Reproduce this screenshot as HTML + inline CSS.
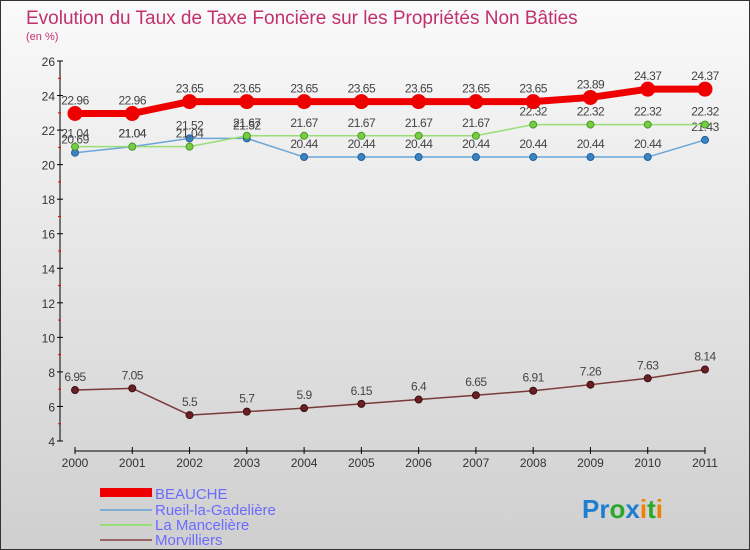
<!DOCTYPE html>
<html><head><meta charset="utf-8"><style>
body{margin:0;width:750px;height:550px;overflow:hidden;font-family:"Liberation Sans",sans-serif}
svg{display:block}
</style></head><body>
<svg id="c" width="750" height="550" xmlns="http://www.w3.org/2000/svg">
<defs><linearGradient id="bg" x1="0" y1="0" x2="0" y2="1"><stop offset="0" stop-color="#fafafa"/><stop offset="1" stop-color="#cfcfcf"/></linearGradient></defs>
<rect x="0.5" y="0.5" width="749" height="549" fill="url(#bg)" stroke="#333"/>
<text x="26" y="24" font-size="19" fill="#c2306d">Evolution du Taux de Taxe Foncière sur les Propriétés Non Bâties</text>
<text x="26" y="40" font-size="11" fill="#c2306d">(en %)</text>
<g id="axes"></g><g id="series"></g>
<g>
<rect x="100" y="488" width="52" height="9" fill="#e00"/>
<text x="155" y="499" font-size="15" fill="#6b6bff">BEAUCHE</text>
<line x1="100" y1="510" x2="152" y2="510" stroke="#7aaed6" stroke-width="2"/>
<text x="155" y="515" font-size="15" fill="#6b6bff">Rueil-la-Gadelière</text>
<line x1="100" y1="525" x2="152" y2="525" stroke="#99dd77" stroke-width="2"/>
<text x="155" y="530" font-size="15" fill="#6b6bff">La Mancelière</text>
<line x1="100" y1="540" x2="152" y2="540" stroke="#996666" stroke-width="2"/>
<text x="155" y="545" font-size="15" fill="#6b6bff">Morvilliers</text>
</g>
<text x="582" y="518" font-size="26" font-weight="bold"><tspan fill="#1e7fd0">Pr</tspan><tspan fill="#2aa82a">o</tspan><tspan fill="#1e7fd0">x</tspan><tspan fill="#f08000">i</tspan><tspan fill="#2aa82a">t</tspan><tspan fill="#f08000">i</tspan></text>
</svg>
<script>
const years=["2000","2001","2002","2003","2004","2005","2006","2007","2008","2009","2010","2011"];
const yTicks=[4,6,8,10,12,14,16,18,20,22,24,26];
const beauche=[22.96,22.96,23.65,23.65,23.65,23.65,23.65,23.65,23.65,23.89,24.37,24.37];
const rueil=[20.69,21.04,21.52,21.52,20.44,20.44,20.44,20.44,20.44,20.44,20.44,21.43];
const manceliere=[21.04,21.04,21.04,21.67,21.67,21.67,21.67,21.67,22.32,22.32,22.32,22.32];
const morvilliers=[6.95,7.05,5.5,5.7,5.9,6.15,6.4,6.65,6.91,7.26,7.63,8.14];
const NS="http://www.w3.org/2000/svg";
const xs=i=>75+i*(630/(years.length-1));
const ys=v=>441-(v-4)*(380/22);
function mk(tag,at,parent){const e=document.createElementNS(NS,tag);for(const k in at)e.setAttribute(k,at[k]);parent.appendChild(e);return e;}
const ax=document.getElementById('axes');
let l=mk('line',{x1:60,y1:61,x2:60,y2:441,stroke:'#000'},ax);


l=mk('line',{x1:75,y1:451,x2:705,y2:451,stroke:'#000'},ax);


yTicks.forEach((t,i)=>{
  const y=ys(t);
  mk('line',{x1:57,y1:y,x2:63,y2:y,stroke:'#000'},ax);
  if(i<yTicks.length-1) mk('line',{x1:58,y1:y-17.27,x2:61,y2:y-17.27,stroke:'#e00'},ax);
  const tx=mk('text',{x:55,y:y+5,'font-size':12,fill:'#333','text-anchor':'end'},ax);
  tx.textContent=t;
  
  
});
years.forEach((yr,i)=>{
  const x=xs(i);
  mk('line',{x1:x,y1:447,x2:x,y2:454,stroke:'#000'},ax);
  const tx=mk('text',{x:x,y:467,'font-size':12,fill:'#333','text-anchor':'middle'},ax);
  tx.textContent=yr;
  
  
});
const sg=document.getElementById('series');
function draw(vals,name,color,w,r,dot,dstroke){
  const g=mk('g',{},sg);
  
  
  const p=mk('polyline',{points:vals.map((v,i)=>xs(i)+','+ys(v)).join(' '),fill:'none',stroke:color,'stroke-width':w,'stroke-linejoin':'round'},g);
  
  
  vals.forEach((v,i)=>{
    const c=mk('circle',{cx:xs(i),cy:ys(v),r:r,fill:dot,stroke:dstroke,'stroke-width':1},g);
    
    
    const t=mk('text',{x:xs(i),y:ys(v)-9,'font-size':12,fill:'#444','text-anchor':'middle','letter-spacing':'-0.5'},g);
    t.textContent=String(v);
    
    
  });
}
draw(morvilliers,'morvilliers','#7a3a3a',1.5,3.5,'#6b1f25','#3a1010');
draw(rueil,'rueil','#6aa6d8',1.5,3.5,'#3a84c4','#25609a');
draw(manceliere,'manceliere','#99dd77',1.5,3.5,'#77cc44','#4a9a22');
draw(beauche,'beauche','#ee0000',7,7,'#ee0000','#ee0000');
</script>
</body></html>
